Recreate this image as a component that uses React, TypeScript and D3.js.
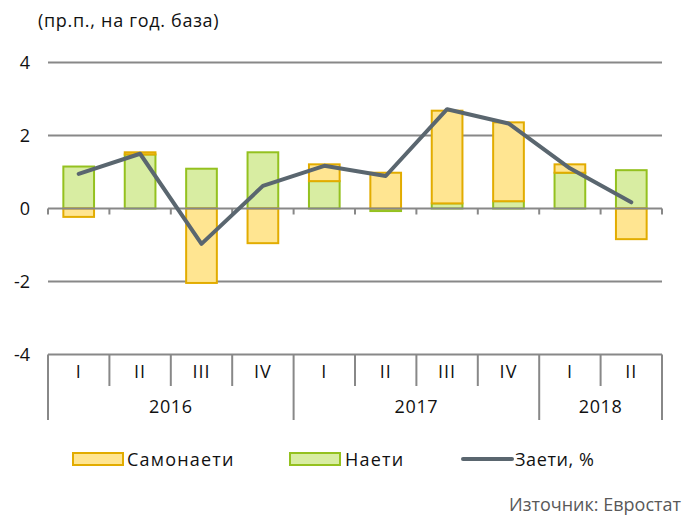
import React, { useEffect, useRef } from 'react';
import * as d3 from 'd3';

// quarters on the x axis, grouped by year
const quarters = ['I', 'II', 'III', 'IV', 'I', 'II', 'III', 'IV', 'I', 'II'];
const years = ['2016', '2017', '2018'];
const yearSpans = [4, 4, 2];

// contributions, pp
const selfEmployed = [-0.23, 0.06, -2.04, -0.95, 0.46, 0.98, 2.54, 2.16, 0.23, -0.84];
const employees = [1.15, 1.48, 1.09, 1.54, 0.75, -0.07, 0.14, 0.2, 0.98, 1.05];
// total employment, %
const employed = [0.95, 1.5, -0.97, 0.62, 1.17, 0.89, 2.72, 2.33, 1.1, 0.17];

const yTicks = [-4, -2, 0, 2, 4];

const FONT = '"Open Sans", "Noto Sans", sans-serif';
const FS = 18;
const YELLOW = '#FFE591';
const YELLOW_LINE = '#E2AC00';
const GREEN = '#D8EDA2';
const GREEN_LINE = '#94C11F';
const LINE = '#5A666F';
const GRID = '#888888';

const App = () => {
    const svgRef = useRef(null);

    useEffect(() => {
        document.body.style.margin = '0';
        const svg = d3.select(svgRef.current);
        svg.selectAll('*').remove();

        const left = 48, right = 662;
        const x = d3.scaleBand()
            .domain(d3.range(quarters.length))
            .range([left, right])
            .paddingInner(0.5)
            .paddingOuter(0.25);
        const step = x.step();
        const y = d3.scaleLinear().domain([-4, 4]).range([354.5, 62.5]);

        const label = (sel, spacing = 0.6) => sel
            .style('font-family', FONT).style('font-size', FS)
            .style('letter-spacing', spacing + 'px').attr('fill', '#111');

        // title
        svg.append('text')
            .attr('x', 38).attr('y', 27)
            .text('(пр.п., на год. база)')
            .call(label, 0.7);

        // gridlines
        svg.selectAll('line.grid')
            .data(yTicks.filter((t) => t !== 0))
            .enter()
            .append('line')
            .attr('x1', left).attr('x2', right)
            .attr('y1', (d) => y(d)).attr('y2', (d) => y(d))
            .attr('stroke', GRID).attr('stroke-width', 2);

        // y labels
        svg.selectAll('text.ytick')
            .data(yTicks)
            .enter()
            .append('text')
            .attr('x', 30).attr('y', (d) => y(d) + 6)
            .attr('text-anchor', 'end')
            .text((d) => d)
            .call(label, 0);

        // stacked bars
        const rows = quarters.map((q, i) => ({ employees: employees[i], self: selfEmployed[i] }));
        const stack = d3.stack().keys(['employees', 'self']).offset(d3.stackOffsetDiverging);
        const series = stack(rows);
        const fills = { employees: GREEN, self: YELLOW };
        const strokes = { employees: GREEN_LINE, self: YELLOW_LINE };

        series.forEach((s) => {
            svg.append('g')
                .selectAll('rect')
                .data(s)
                .enter()
                .append('rect')
                .attr('x', (d, i) => x(i))
                .attr('width', x.bandwidth())
                .attr('y', (d) => y(Math.max(d[0], d[1])))
                .attr('height', (d) => Math.abs(y(d[0]) - y(d[1])))
                .attr('fill', fills[s.key])
                .attr('stroke', strokes[s.key])
                .attr('stroke-width', 2);
        });

        // zero axis with tick marks
        svg.append('line')
            .attr('x1', left).attr('x2', right)
            .attr('y1', y(0)).attr('y2', y(0))
            .attr('stroke', GRID).attr('stroke-width', 2);
        svg.selectAll('line.tick0')
            .data(d3.range(quarters.length + 1))
            .enter()
            .append('line')
            .attr('x1', (d) => left + d * step).attr('x2', (d) => left + d * step)
            .attr('y1', y(0)).attr('y2', y(0) + 6)
            .attr('stroke', GRID).attr('stroke-width', 2);

        // line
        const line = d3.line()
            .x((d, i) => x(i) + x.bandwidth() / 2)
            .y((d) => y(d));
        svg.append('path')
            .datum(employed)
            .attr('d', line)
            .attr('fill', 'none')
            .attr('stroke', LINE)
            .attr('stroke-width', 4)
            .attr('stroke-linejoin', 'round')
            .attr('stroke-linecap', 'round');

        // category box
        const boxTop = y(-4), boxMid = 386, boxBottom = 420;
        const yearEdges = [0, ...Array.from(d3.cumsum(yearSpans))];
        svg.selectAll('line.qsep')
            .data(d3.range(1, quarters.length).filter((d) => !yearEdges.includes(d)))
            .enter()
            .append('line')
            .attr('x1', (d) => left + d * step).attr('x2', (d) => left + d * step)
            .attr('y1', boxTop).attr('y2', boxMid)
            .attr('stroke', GRID).attr('stroke-width', 2);
        svg.selectAll('line.ysep')
            .data(yearEdges)
            .enter()
            .append('line')
            .attr('x1', (d) => left + d * step).attr('x2', (d) => left + d * step)
            .attr('y1', boxTop).attr('y2', boxBottom)
            .attr('stroke', GRID).attr('stroke-width', 2);

        svg.selectAll('text.q')
            .data(quarters)
            .enter()
            .append('text')
            .attr('x', (d, i) => x(i) + x.bandwidth() / 2)
            .attr('y', 378)
            .attr('text-anchor', 'middle')
            .text((d) => d)
            .call(label, 1);
        svg.selectAll('text.yr')
            .data(years)
            .enter()
            .append('text')
            .attr('x', (d, i) => left + (yearEdges[i] + yearEdges[i + 1]) / 2 * step)
            .attr('y', 413)
            .attr('text-anchor', 'middle')
            .text((d) => d)
            .call(label, 0.6);

        // legend
        const lg = svg.append('g');
        lg.append('rect').attr('x', 73).attr('y', 453).attr('width', 50).attr('height', 12)
            .attr('fill', YELLOW).attr('stroke', YELLOW_LINE).attr('stroke-width', 2);
        lg.append('text').attr('x', 127).attr('y', 466).text('Самонаети').call(label, 1.2);
        lg.append('rect').attr('x', 290).attr('y', 453).attr('width', 50).attr('height', 12)
            .attr('fill', GREEN).attr('stroke', GREEN_LINE).attr('stroke-width', 2);
        lg.append('text').attr('x', 345).attr('y', 466).text('Наети').call(label, 1.2);
        lg.append('line').attr('x1', 463).attr('x2', 512).attr('y1', 459).attr('y2', 459)
            .attr('stroke', LINE).attr('stroke-width', 4).attr('stroke-linecap', 'round');
        lg.append('text').attr('x', 515).attr('y', 466).text('Заети, %').call(label, 0.6);

        svg.append('text')
            .attr('x', 681).attr('y', 511)
            .attr('text-anchor', 'end')
            .text('Източник: Евростат')
            .style('font-family', FONT).style('font-size', FS).attr('fill', '#595959');
    }, []);

    return (
        <svg ref={svgRef} width={690} height={515} style={{ display: 'block' }} />
    );
};

export default App;
